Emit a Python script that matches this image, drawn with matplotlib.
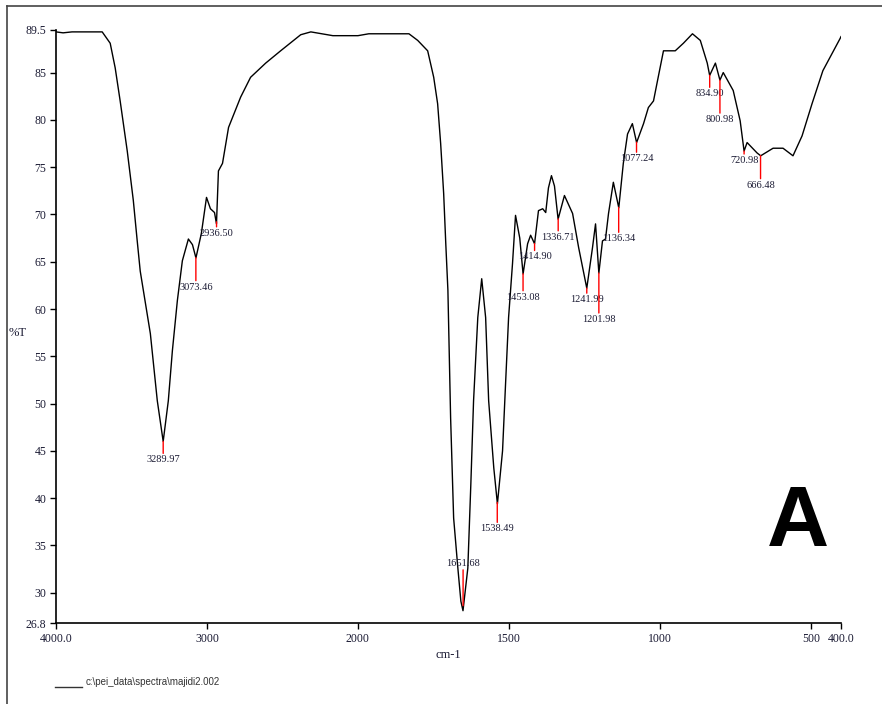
import numpy as np
import matplotlib
matplotlib.use("Agg")
import matplotlib.pyplot as plt
from matplotlib.lines import Line2D

# FTIR spectrum (wavenumber cm-1, %T)
wavenumber = [4000, 3953, 3894, 3694, 3641, 3608, 3575, 3528, 3488, 3462, 3442, 3375,
              3329, 3290, 3256, 3229, 3196, 3163, 3123, 3096, 3073, 3037, 3003, 2977,
              2950, 2937, 2924, 2897, 2857, 2777, 2711, 2611, 2512, 2379, 2312, 2166,
              2000, 1964, 1831, 1802, 1769, 1749, 1736, 1726, 1716, 1709, 1702, 1693,
              1683, 1669, 1659, 1652, 1636, 1626, 1617, 1603, 1590, 1577, 1567, 1550,
              1538, 1521, 1511, 1501, 1488, 1478, 1464, 1453, 1438, 1428, 1415, 1402,
              1388, 1378, 1369, 1359, 1349, 1337, 1316, 1289, 1269, 1242, 1223, 1213,
              1202, 1190, 1180, 1170, 1154, 1136, 1121, 1107, 1091, 1077, 1054, 1038,
              1021, 1008, 988, 949, 922, 892, 866, 843, 835, 816, 801, 790, 757, 734,
              721, 711, 678, 666, 625, 592, 559, 529, 496, 460, 403, 400]
transmittance = [89.3, 89.2, 89.3, 89.3, 88.1, 85.5, 82.0, 76.7, 71.5, 67.2, 64.0, 57.4,
                 50.3, 46.0, 50.3, 55.6, 60.9, 65.1, 67.4, 66.8, 65.4, 68.0, 71.8, 70.6,
                 70.2, 69.0, 74.6, 75.4, 79.2, 82.4, 84.5, 86.0, 87.3, 89.0, 89.3, 88.9,
                 88.9, 89.1, 89.1, 88.4, 87.3, 84.5, 81.7, 77.5, 72.2, 66.9, 62.0, 48.5,
                 37.9, 32.6, 29.1, 28.1, 32.6, 41.5, 50.3, 59.1, 63.2, 59.1, 50.3, 43.2,
                 39.4, 45.0, 52.1, 59.1, 64.8, 69.9, 67.5, 63.7, 66.9, 67.8, 66.9, 70.4,
                 70.6, 70.2, 72.8, 74.1, 73.0, 69.5, 72.0, 70.1, 66.5, 62.2, 66.5, 69.0,
                 63.8, 67.2, 67.4, 70.1, 73.4, 70.7, 75.4, 78.5, 79.6, 77.6, 79.6, 81.3,
                 82.0, 84.1, 87.3, 87.3, 88.1, 89.1, 88.4, 86.0, 84.7, 86.0, 84.2, 85.0,
                 83.1, 79.9, 76.7, 77.6, 76.5, 76.2, 77.0, 77.0, 76.2, 78.3, 81.7, 85.2,
                 88.6, 88.8]

peak_labels = ["3289.97", "3073.46", "2936.50", "1651.68", "1538.49", "1453.08",
               "1414.90", "1336.71", "1241.99", "1201.98", "1136.34", "1077.24",
               "834.90", "800.98", "720.98", "666.48"]
# red marker length below each peak, in pixels (negative = drawn upward)
marker_len = [12, 23, 5, -40, 20, 17, 7, 12, 5, 40, 25, 10, 12, 33, 3, 23]

xticks = [4000, 3000, 2000, 1500, 1000, 500, 400]
xtick_labels = ["4000.0", "3000", "2000", "1500", "1000", "500", "400.0"]
yticks = [89.5, 85, 80, 75, 70, 65, 60, 55, 50, 45, 40, 35, 30, 26.8]
ytick_labels = ["89.5", "85", "80", "75", "70", "65", "60", "55", "50", "45", "40", "35", "30", "26.8"]

serif = ["Liberation Serif", "DejaVu Serif"]
txt_col = "#1a1a33"


def fwd(x):
    x = np.asarray(x, dtype=float)
    return np.where(x <= 2000, x, 2000 + (x - 2000) / 2.0)


def inv(u):
    u = np.asarray(u, dtype=float)
    return np.where(u <= 2000, u, 2000 + (u - 2000) * 2.0)


fig = plt.figure(figsize=(8.82, 7.04), dpi=100)
W, H = 882, 704
ax = fig.add_axes([56 / W, 1 - 623 / H, (841 - 56) / W, (623 - 30) / H])
ax.set_xscale("function", functions=(fwd, inv))
ax.set_xlim(4000, 400)
ax.set_ylim(26.8, 89.5)

ax.plot(wavenumber, transmittance, color="black", lw=1.0)

wn_arr = np.array(wavenumber[::-1], dtype=float)
t_arr = np.array(transmittance[::-1], dtype=float)
for lab, L in zip(peak_labels, marker_len):
    w = float(lab)
    t = np.interp(w, wn_arr, t_arr)
    if L > 0:
        ax.annotate("", xy=(w, t), xytext=(0, -L), textcoords="offset pixels",
                    arrowprops=dict(arrowstyle="-", color="red", lw=1.0, shrinkA=0, shrinkB=0))
        ax.annotate(lab, xy=(w, t), xytext=(0, -L - 2), textcoords="offset pixels",
                    ha="center", va="top", fontsize=7.5, family=serif, color=txt_col)
    else:
        ax.annotate("", xy=(w, t), xytext=(0, -L), textcoords="offset pixels",
                    arrowprops=dict(arrowstyle="-", color="red", lw=1.0, shrinkA=0, shrinkB=-3))
        ax.annotate(lab, xy=(w, t), xytext=(0, -L + 2), textcoords="offset pixels",
                    ha="center", va="bottom", fontsize=7.5, family=serif, color=txt_col)

ax.spines["top"].set_visible(False)
ax.spines["right"].set_visible(False)
ax.spines["left"].set_linewidth(1.2)
ax.spines["bottom"].set_linewidth(1.2)
ax.set_xticks(xticks)
ax.set_xticklabels(xtick_labels, family=serif, fontsize=8.5, color=txt_col)
ax.set_yticks(yticks)
ax.set_yticklabels(ytick_labels, family=serif, fontsize=8.5, color=txt_col)
ax.xaxis.set_minor_locator(matplotlib.ticker.NullLocator())
ax.tick_params(axis="both", direction="out", length=4, width=1, pad=3)
ax.set_xlabel("cm-1", family=serif, fontsize=9, color=txt_col, labelpad=3)

fig.text(18 / W, 1 - 333 / H, "%T", family=serif, fontsize=9, color=txt_col,
         ha="center", va="center")
fig.text(798 / W, 1 - 524 / H, "A", family=["Liberation Sans", "DejaVu Sans"],
         fontsize=62, fontweight="bold", ha="center", va="center", color="black")

# data file legend at the bottom
fig.add_artist(Line2D([55 / W, 82 / W], [1 - 687 / H, 1 - 687 / H], color="#333333", lw=1.0))
fig.text(86 / W, 1 - 682 / H, r"c:\pei_data\spectra\majidi2.002",
         family=["Liberation Sans", "DejaVu Sans"], fontsize=7, color="#333333",
         ha="left", va="center")

# outer frame (left and top edges)
fig.add_artist(Line2D([7 / W, 7 / W], [0, 1 - 6 / H], color="#444444", lw=1.2))
fig.add_artist(Line2D([7 / W, 1], [1 - 6 / H, 1 - 6 / H], color="#444444", lw=1.2))

fig.savefig("out.png", dpi=100)
